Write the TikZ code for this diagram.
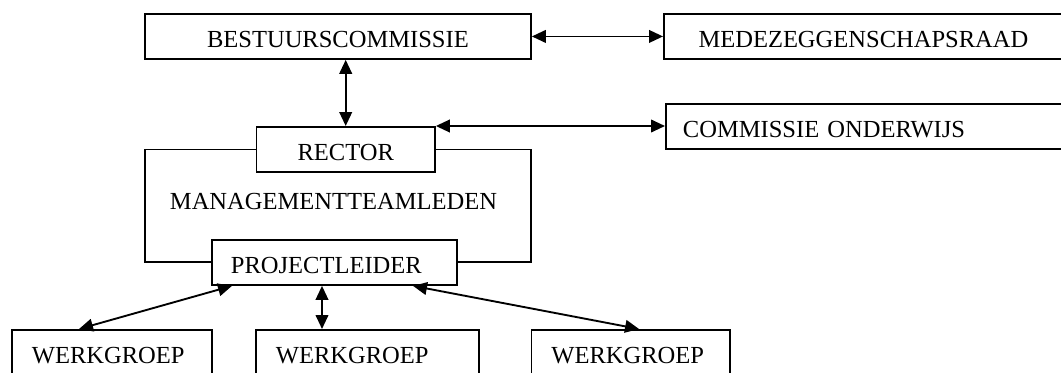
\documentclass[tikz,border=0pt]{standalone}
\usepackage{fontspec}
\setmainfont{Liberation Serif}
\usetikzlibrary{arrows.meta}
\tikzset{%
  orgbox/.style  = {shape=rectangle, draw, line width=1.4pt, fill=white,%
                    inner sep=0pt, anchor=north west, minimum height=33.75pt,%
                    text height=16.8pt, text depth=0pt,%
                    font=\fontsize{18.4}{22}\selectfont},%
  leftbox/.style = {orgbox, align=left, inner xsep=#1},%
  link/.style    = {line width=1.4pt,%
                    {Triangle[length=10.5pt,width=9.5pt]}-{Triangle[length=10.5pt,width=9.5pt]}}%
}
\begin{document}
\begin{tikzpicture}[x=0.75pt,y=-0.75pt]
	\useasboundingbox (0,0) rectangle (1061,372);
		\node [orgbox, fill=none, minimum width=289.5pt, minimum height=84.4pt] (team) at (144,148.5) {};
		\node [inner sep=0pt, font=\fontsize{18.4}{22}\selectfont] (mtl) at (333.5,201.7) {MANAGEMENTTEAMLEDEN};
		\node [orgbox, minimum width=289.5pt] (best) at (144,13) {BESTUURSCOMMISSIE};
		\node [orgbox, minimum width=299.25pt] (mede) at (663,13) {MEDEZEGGENSCHAPSRAAD};
		\node [orgbox, minimum width=133.9pt] (rector) at (255.5,126) {RECTOR};
		\node [leftbox=12.75pt, text width=272.25pt] (cow) at (665,103) {COMMISSIE ONDERWIJS};
		\node [leftbox=14.25pt, text width=155.25pt] (proj) at (211,239) {PROJECTLEIDER};
		\node [leftbox=15pt, text width=120pt] (wg1) at (11,329) {WERKGROEP};
		\node [leftbox=15pt, text width=137.25pt] (wg2) at (255,329) {WERKGROEP};
		\node [leftbox=15pt, text width=118.9pt] (wg3) at (530.5,329) {WERKGROEP};
		\draw [link] (best) -- (mede);
		\draw [link] (rector.north |- best.south) -- (rector.north);
		\draw [link] (rector.north east) -- (rector.north east -| cow.west);
		\draw [link] ([xshift=15.75pt]proj.south west) -- ([xshift=51pt]wg1.north west);
		\draw [link] ([xshift=83.25pt]proj.south west) -- ([xshift=83.25pt]proj.south west |- wg2.north);
		\draw [link] ([xshift=151.5pt]proj.south west) -- ([xshift=81.4pt]wg3.north west);
	\end{tikzpicture}
\end{document}
